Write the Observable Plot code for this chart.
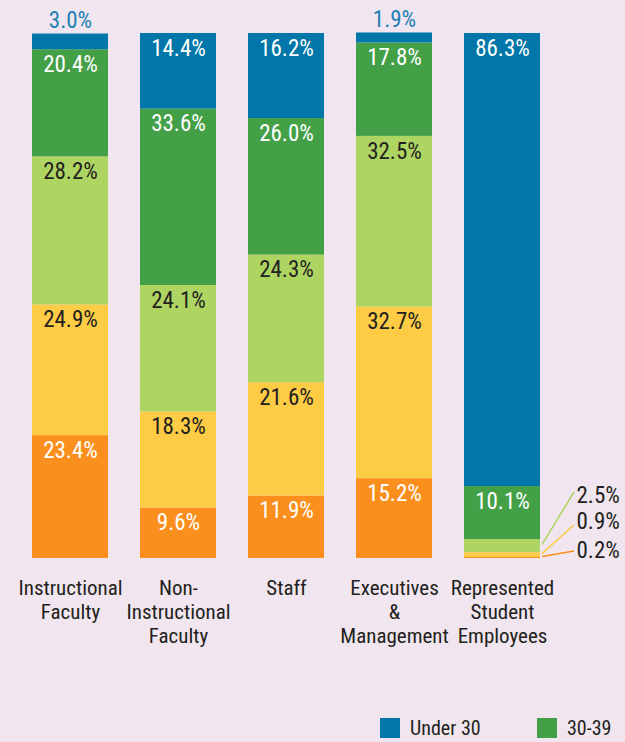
<!DOCTYPE html>
<html>
<head>
<meta charset="utf-8">
<script src="https://cdn.jsdelivr.net/npm/d3@7"></script>
<script src="https://cdn.jsdelivr.net/npm/@observablehq/plot@0.6"></script>
<style>
  html, body { margin: 0; padding: 0; background: #f1e6ef; overflow: hidden; }
  body { width: 625px; height: 742px; font-family: "Roboto Condensed", "Roboto", sans-serif; font-stretch: condensed; }
  #legend { position: relative; height: 42px; }
  .item { position: absolute; top: 18px; display: flex; align-items: center; font-size: 20px; line-height: 20px; color: #231f20; }
  .sw { width: 20px; height: 20px; margin-right: 10px; }
</style>
</head>
<body>
<div id="chart"></div>
<div id="legend"></div>
<script>
// ---- data ----
const categories = ["Instructional Faculty", "Non-Instructional Faculty", "Staff", "Executives & Management", "Represented Student Employees"];
const axisLabels = ["Instructional\nFaculty", "Non-\nInstructional\nFaculty", "Staff", "Executives\n&\nManagement", "Represented\nStudent\nEmployees"];
const ageGroups = ["Under 30", "30-39", "40-49", "50-59", "60 and over"];
const under30   = [3.0, 14.4, 16.2, 1.9, 86.3];
const age30to39 = [20.4, 33.6, 26.0, 17.8, 10.1];
const age40to49 = [28.2, 24.1, 24.3, 32.5, 2.5];
const age50to59 = [24.9, 18.3, 21.6, 32.7, 0.9];
const age60plus = [23.4, 9.6, 11.9, 15.2, 0.2];
const legendGroups = ["Under 30", "30-39"];

// ---- styles ----
const colors = ["#0077a8", "#43a047", "#aed562", "#fecb45", "#fb8f1d"];
const labelInk = ["#ffffff", "#ffffff", "#231f20", "#231f20", "#ffffff"];
const dark = "#231f20";
const fontFamily = `"Roboto Condensed", "Roboto", sans-serif`;

// ---- build stacked table (bottom = oldest) ----
const series = [under30, age30to39, age40to49, age50to59, age60plus];
const rows = [];
categories.forEach((cat, i) => {
  let cum = 0;
  for (let j = ageGroups.length - 1; j >= 0; j--) {
    const v = series[j][i];
    rows.push({category: cat, age: ageGroups[j], ageIndex: j, value: v, y1: cum, y2: cum + v, label: v.toFixed(1) + "%"});
    cum += v;
  }
});
const inside = rows.filter(d => d.value >= 5);
const above = rows.filter(d => d.value < 5 && d.ageIndex === 0);
const callouts = rows.filter(d => d.value < 5 && d.ageIndex !== 0);
const calloutDy = [-1, -30, -56]; // 60+ , 50-59, 40-49 (bottom to top)
const leaderEndDy = [-7, -33, -66];
callouts.forEach((d, k) => { d.k = k; });

const plot = Plot.plot({
  width: 625,
  height: 700,
  marginTop: 33,
  marginBottom: 142,
  marginLeft: 32,
  marginRight: 85,
  x: {domain: categories, paddingInner: 0.3, paddingOuter: 0, axis: null},
  y: {domain: [0, 100], axis: null},
  color: {domain: ageGroups, range: colors},
  style: {background: "transparent", fontFamily, fontStretch: "condensed"},
  marks: [
    Plot.barY(rows, {x: "category", y1: "y1", y2: "y2", fill: "age"}),
    Plot.text(inside, {x: "category", y: "y2", text: "label", fill: d => labelInk[d.ageIndex],
      lineAnchor: "top", dy: 6, fontSize: 23}),
    Plot.text(above, {x: "category", y: "y2", text: "label", fill: "#1f7fb5",
      lineAnchor: "bottom", dy: -6, fontSize: 23}),
    ...callouts.map(d => Plot.text([d], {x: "category", y: () => 0, text: "label", fill: dark,
      textAnchor: "start", lineAnchor: "bottom", dx: 74, dy: calloutDy[d.k], fontSize: 23})),
    Plot.text(categories, {x: d => d, y: () => 0, text: (d, i) => axisLabels[i], fill: dark,
      lineAnchor: "top", dy: 19, fontSize: 21, lineHeight: 1.143})
  ]
});
document.getElementById("chart").appendChild(plot);

// leader lines for small callouts, drawn with the plot's own scales
const xs = plot.scale("x"), ys = plot.scale("y");
const svg = d3.select(plot);
callouts.forEach(d => {
  const xStart = xs.apply(d.category) + xs.bandwidth + 2;
  svg.append("line")
    .attr("x1", xStart).attr("y1", ys.apply((d.y1 + d.y2) / 2) - 1)
    .attr("x2", xStart + 32).attr("y2", ys.apply(0) + leaderEndDy[d.k])
    .attr("stroke", colors[d.ageIndex]).attr("stroke-width", 1.5);
});

// legend
const legend = document.getElementById("legend");
legendGroups.forEach((g, i) => {
  const item = document.createElement("div");
  item.className = "item";
  item.style.left = (380 + i * 157) + "px";
  item.innerHTML = `<span class="sw" style="background:${colors[ageGroups.indexOf(g)]}"></span><span>${g}</span>`;
  legend.appendChild(item);
});
</script>
</body>
</html>
